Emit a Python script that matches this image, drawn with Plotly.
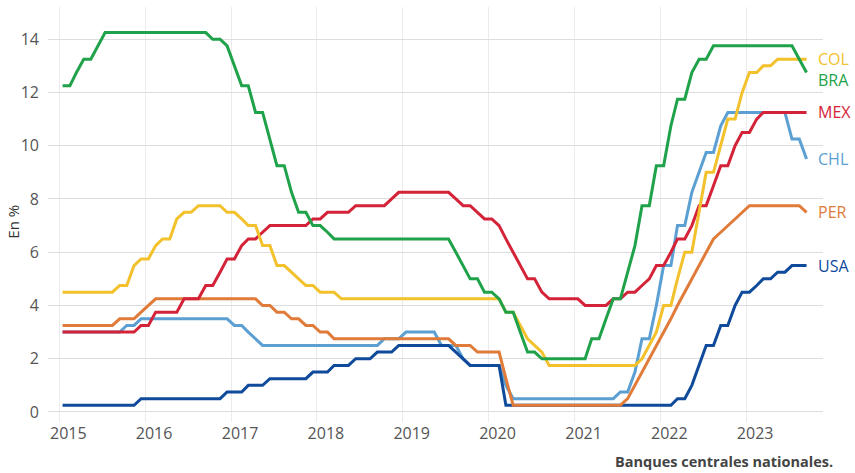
import pandas as pd
import plotly.graph_objects as go

# monthly policy rates, Jan 2015 - Sep 2023 (one row per year)
months = pd.date_range('2015-01-01', '2023-09-01', freq='MS') + pd.Timedelta(days=14)

bra = [12.25, 12.25, 12.75, 13.25, 13.25, 13.75, 14.25, 14.25, 14.25, 14.25, 14.25, 14.25,
       14.25, 14.25, 14.25, 14.25, 14.25, 14.25, 14.25, 14.25, 14.25, 14.0, 14.0, 13.75,
       13.0, 12.25, 12.25, 11.25, 11.25, 10.25, 9.25, 9.25, 8.25, 7.5, 7.5, 7.0,
       7.0, 6.75, 6.5, 6.5, 6.5, 6.5, 6.5, 6.5, 6.5, 6.5, 6.5, 6.5,
       6.5, 6.5, 6.5, 6.5, 6.5, 6.5, 6.5, 6.0, 5.5, 5.0, 5.0, 4.5,
       4.5, 4.25, 3.75, 3.75, 3.0, 2.25, 2.25, 2.0, 2.0, 2.0, 2.0, 2.0,
       2.0, 2.0, 2.75, 2.75, 3.5, 4.25, 4.25, 5.25, 6.25, 7.75, 7.75, 9.25,
       9.25, 10.75, 11.75, 11.75, 12.75, 13.25, 13.25, 13.75, 13.75, 13.75, 13.75, 13.75,
       13.75, 13.75, 13.75, 13.75, 13.75, 13.75, 13.75, 13.25, 12.75]

col = [4.5, 4.5, 4.5, 4.5, 4.5, 4.5, 4.5, 4.5, 4.75, 4.75, 5.5, 5.75,
       5.75, 6.25, 6.5, 6.5, 7.25, 7.5, 7.5, 7.75, 7.75, 7.75, 7.75, 7.5,
       7.5, 7.25, 7.0, 7.0, 6.25, 6.25, 5.5, 5.5, 5.25, 5.0, 4.75, 4.75,
       4.5, 4.5, 4.5, 4.25, 4.25, 4.25, 4.25, 4.25, 4.25, 4.25, 4.25, 4.25,
       4.25, 4.25, 4.25, 4.25, 4.25, 4.25, 4.25, 4.25, 4.25, 4.25, 4.25, 4.25,
       4.25, 4.25, 3.75, 3.75, 3.25, 2.75, 2.5, 2.25, 1.75, 1.75, 1.75, 1.75,
       1.75, 1.75, 1.75, 1.75, 1.75, 1.75, 1.75, 1.75, 1.75, 2.0, 2.5, 3.0,
       4.0, 4.0, 5.0, 6.0, 6.0, 7.5, 9.0, 9.0, 10.0, 11.0, 11.0, 12.0,
       12.75, 12.75, 13.0, 13.0, 13.25, 13.25, 13.25, 13.25, 13.25]

mex = [3.0, 3.0, 3.0, 3.0, 3.0, 3.0, 3.0, 3.0, 3.0, 3.0, 3.0, 3.25,
       3.25, 3.75, 3.75, 3.75, 3.75, 4.25, 4.25, 4.25, 4.75, 4.75, 5.25, 5.75,
       5.75, 6.25, 6.5, 6.5, 6.75, 7.0, 7.0, 7.0, 7.0, 7.0, 7.0, 7.25,
       7.25, 7.5, 7.5, 7.5, 7.5, 7.75, 7.75, 7.75, 7.75, 7.75, 8.0, 8.25,
       8.25, 8.25, 8.25, 8.25, 8.25, 8.25, 8.25, 8.0, 7.75, 7.75, 7.5, 7.25,
       7.25, 7.0, 6.5, 6.0, 5.5, 5.0, 5.0, 4.5, 4.25, 4.25, 4.25, 4.25,
       4.25, 4.0, 4.0, 4.0, 4.0, 4.25, 4.25, 4.5, 4.5, 4.75, 5.0, 5.5,
       5.5, 6.0, 6.5, 6.5, 7.0, 7.75, 7.75, 8.5, 9.25, 9.25, 10.0, 10.5,
       10.5, 11.0, 11.25, 11.25, 11.25, 11.25, 11.25, 11.25, 11.25]

chl = [3.0, 3.0, 3.0, 3.0, 3.0, 3.0, 3.0, 3.0, 3.0, 3.25, 3.25, 3.5,
       3.5, 3.5, 3.5, 3.5, 3.5, 3.5, 3.5, 3.5, 3.5, 3.5, 3.5, 3.5,
       3.25, 3.25, 3.0, 2.75, 2.5, 2.5, 2.5, 2.5, 2.5, 2.5, 2.5, 2.5,
       2.5, 2.5, 2.5, 2.5, 2.5, 2.5, 2.5, 2.5, 2.5, 2.75, 2.75, 2.75,
       3.0, 3.0, 3.0, 3.0, 3.0, 2.5, 2.5, 2.5, 2.0, 1.75, 1.75, 1.75,
       1.75, 1.75, 1.0, 0.5, 0.5, 0.5, 0.5, 0.5, 0.5, 0.5, 0.5, 0.5,
       0.5, 0.5, 0.5, 0.5, 0.5, 0.5, 0.75, 0.75, 1.5, 2.75, 2.75, 4.0,
       5.5, 5.5, 7.0, 7.0, 8.25, 9.0, 9.75, 9.75, 10.75, 11.25, 11.25, 11.25,
       11.25, 11.25, 11.25, 11.25, 11.25, 11.25, 10.25, 10.25, 9.5]

per = [3.25, 3.25, 3.25, 3.25, 3.25, 3.25, 3.25, 3.25, 3.5, 3.5, 3.5, 3.75,
       4.0, 4.25, 4.25, 4.25, 4.25, 4.25, 4.25, 4.25, 4.25, 4.25, 4.25, 4.25,
       4.25, 4.25, 4.25, 4.25, 4.0, 4.0, 3.75, 3.75, 3.5, 3.5, 3.25, 3.25,
       3.0, 3.0, 2.75, 2.75, 2.75, 2.75, 2.75, 2.75, 2.75, 2.75, 2.75, 2.75,
       2.75, 2.75, 2.75, 2.75, 2.75, 2.75, 2.75, 2.5, 2.5, 2.5, 2.25, 2.25,
       2.25, 2.25, 1.25, 0.25, 0.25, 0.25, 0.25, 0.25, 0.25, 0.25, 0.25, 0.25,
       0.25, 0.25, 0.25, 0.25, 0.25, 0.25, 0.25, 0.5, 1.0, 1.5, 2.0, 2.5,
       3.0, 3.5, 4.0, 4.5, 5.0, 5.5, 6.0, 6.5, 6.75, 7.0, 7.25, 7.5,
       7.75, 7.75, 7.75, 7.75, 7.75, 7.75, 7.75, 7.75, 7.5]

usa = [0.25, 0.25, 0.25, 0.25, 0.25, 0.25, 0.25, 0.25, 0.25, 0.25, 0.25, 0.5,
       0.5, 0.5, 0.5, 0.5, 0.5, 0.5, 0.5, 0.5, 0.5, 0.5, 0.5, 0.75,
       0.75, 0.75, 1.0, 1.0, 1.0, 1.25, 1.25, 1.25, 1.25, 1.25, 1.25, 1.5,
       1.5, 1.5, 1.75, 1.75, 1.75, 2.0, 2.0, 2.0, 2.25, 2.25, 2.25, 2.5,
       2.5, 2.5, 2.5, 2.5, 2.5, 2.5, 2.5, 2.25, 2.0, 1.75, 1.75, 1.75,
       1.75, 1.75, 0.25, 0.25, 0.25, 0.25, 0.25, 0.25, 0.25, 0.25, 0.25, 0.25,
       0.25, 0.25, 0.25, 0.25, 0.25, 0.25, 0.25, 0.25, 0.25, 0.25, 0.25, 0.25,
       0.25, 0.25, 0.5, 0.5, 1.0, 1.75, 2.5, 2.5, 3.25, 3.25, 4.0, 4.5,
       4.5, 4.75, 5.0, 5.0, 5.25, 5.25, 5.5, 5.5, 5.5]

# drawing order: first drawn ends up underneath
series = [
    ('CHL', chl, '#5b9fd3', 0),
    ('USA', usa, '#0f4a9b', 0),
    ('PER', per, '#e07b39', 0),
    ('MEX', mex, '#d42338', 0),
    ('COL', col, '#f2c12c', 0),
    ('BRA', bra, '#1fa24a', 7),
]

fig = go.Figure()
for name, vals, color, yshift in series:
    fig.add_trace(go.Scatter(x=months, y=vals, mode='lines', name=name,
                             line=dict(color=color, width=3),
                             hoverinfo='skip'))
    fig.add_annotation(x=months[-1], y=vals[-1], text=name, showarrow=False,
                       xanchor='left', yanchor='middle', xshift=9, yshift=-yshift,
                       font=dict(family='Open Sans', size=16, color=color))

fig.add_annotation(text='En %', xref='paper', yref='paper', x=-0.0455, y=0.482,
                   xanchor='center', yanchor='middle', showarrow=False, textangle=-90,
                   font=dict(family='Open Sans', size=15, color='#333333'))
fig.add_annotation(text='<b>Banques centrales nationales.</b>', xref='paper', yref='paper',
                   x=1.016, y=-0.095, xanchor='right', yanchor='middle', showarrow=False,
                   font=dict(family='Open Sans', size=14.5, color='#444444'))

fig.update_xaxes(range=['2014-11-14', '2023-11-24'], tick0='2015-01-01', dtick='M12',
                 tickformat='%Y', showgrid=True, gridcolor='#ebebeb', gridwidth=1,
                 zeroline=False, showline=False, ticklabelshift=9,
                 tickfont=dict(family='Open Sans', size=16, color='#555555'))
fig.update_yaxes(range=[-0.376, 15.21], tick0=0, dtick=2, showgrid=True,
                 gridcolor='#dddddd', gridwidth=1, zeroline=False, showline=False,
                 ticklabelstandoff=8,
                 tickfont=dict(family='Open Sans', size=16, color='#555555'))
fig.update_layout(width=855, height=473, showlegend=False,
                  plot_bgcolor='white', paper_bgcolor='white',
                  margin=dict(l=48, r=32, t=7, b=51))

# the page body has a default 8px margin; drop it so the figure fills the window
fig.write_html('out.html', config={'displayModeBar': False},
               post_script="document.body.style.margin='0';")
